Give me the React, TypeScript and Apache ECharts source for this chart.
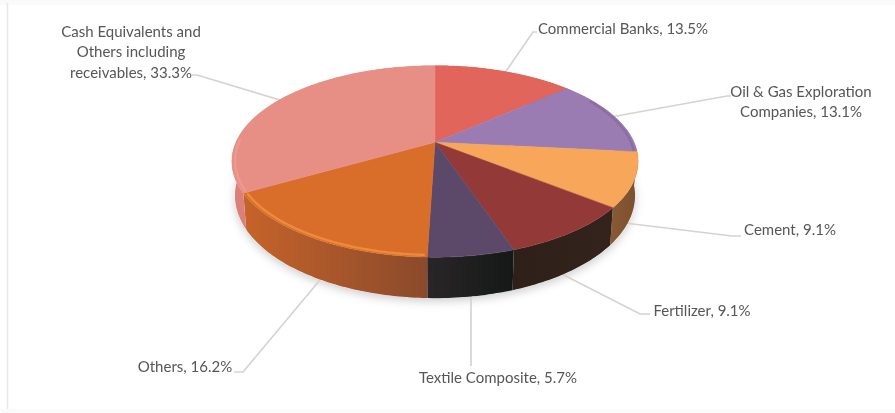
import React, { useEffect, useRef } from "react";
import * as echarts from "echarts";

const categories = [
  "Commercial Banks",
  "Oil & Gas Exploration\nCompanies",
  "Cement",
  "Fertilizer",
  "Textile Composite",
  "Others",
  "Cash Equivalents and\nOthers including\nreceivables",
];
const shares = [13.5, 13.1, 9.1, 9.1, 5.7, 16.2, 33.3];

const topColors = ["#E2655B", "#9A7CB2", "#F7A65A", "#933A38", "#5C4868", "#D96E2A", "#E88F85"];
const rimColors = ["#E2655B", "#8A6EA6", "#F7A65A", "#933A38", "#5C4868", "#EE8A3A", "#EC9A90"];
const wallLeft = ["#A84B44", "#6E5788", "#8A5A35", "#2E2019", "#2A2628", "#C6632A", "#DB8078"];
const wallRight = ["#A84B44", "#6E5788", "#7A4E2E", "#33231C", "#141817", "#8A4A2B", "#DB8078"];

// Label layout: text centre and leader polyline, in page pixels.
const labelCentres = [
  [623, 28], [801, 101], [790, 229], [702, 310], [498, 377], [185, 366], [131, 51],
];
const leaderPaths = [
  [[500, 80], [533, 32], [537, 32]],
  [[600, 119], [727, 96], [731, 96]],
  [[600, 220], [732, 236], [741, 236]],
  [[550, 268], [640, 314], [650, 314]],
  [[471, 290], [471, 366]],
  [[330, 268], [243, 372], [234, 372]],
  [[290, 103], [197, 75], [192, 75]],
];

// Projection of the pie's disc
const CX = 435, CY = 142.3, A = 199, B = 91.9, K = 0.2, DEPTH = 32.8, PULL = 0.985;
// The bevel highlight only shows on the near part of the rim.
const RIM_FROM = 60, RIM_TO = 272;

function project(angleDeg: number, radius = 1, drop = false): number[] {
  const t = (angleDeg * Math.PI) / 180;
  const w = 1 + K * radius * Math.cos(t);
  const sx = (A * radius * Math.sin(t)) / w;
  const sy = (B * radius * Math.cos(t)) / w;
  return drop
    ? [CX + sx * PULL, CY - sy + DEPTH / w]
    : [CX + sx, CY - sy];
}

function sliceAngles(i: number): [number, number] {
  const total = shares.reduce((a, b) => a + b, 0);
  const before = shares.slice(0, i).reduce((a, b) => a + b, 0);
  return [(before / total) * 360, ((before + shares[i]) / total) * 360];
}

function arc(a0: number, a1: number, radius = 1, drop = false): number[][] {
  const n = Math.max(2, Math.ceil(a1 - a0));
  const pts: number[][] = [];
  for (let k = 0; k <= n; k++) pts.push(project(a0 + ((a1 - a0) * k) / n, radius, drop));
  return pts;
}

const seriesData = categories.map((name, i) => ({ name, value: shares[i] }));

export default function App() {
  const ref = useRef<HTMLDivElement>(null);
  useEffect(() => {
    document.body.style.margin = "0";
    document.body.style.background = "#ffffff";
    const chart = echarts.init(ref.current!, undefined, { renderer: "svg" });
    chart.setOption({
      animation: false,
      backgroundColor: "#ffffff",
      graphic: [
        { type: "rect", shape: { x: 0, y: 0, width: 895, height: 5 }, style: { fill: "#FAFAFA" }, silent: true, z: 0 },
        { type: "rect", shape: { x: 0, y: 409, width: 895, height: 4 }, style: { fill: "#FAFAFA" }, silent: true, z: 0 },
        { type: "line", shape: { x1: 7.5, y1: 3, x2: 7.5, y2: 409 }, style: { stroke: "#E8E8E8", lineWidth: 1.5 }, silent: true, z: 0 },
      ],
      series: [
        {
          type: "custom",
          coordinateSystem: "none",
          silent: true,
          z: 1,
          data: seriesData,
          renderItem: (p: any) => {
            const i = p.dataIndex;
            const shadow = i === 0
              ? [{
                  type: "polygon",
                  shape: { points: arc(0, 360, 1, true) },
                  style: { fill: "#ffffff", shadowBlur: 10, shadowColor: "rgba(0,0,0,0.2)", shadowOffsetY: 3 },
                }]
              : [];
            return {
              type: "group",
              children: [
                ...shadow,
                {
                  type: "polyline",
                  shape: { points: leaderPaths[i] },
                  style: { stroke: "#D6D3CF", lineWidth: 1.7, fill: "none" },
                },
                {
                  type: "text",
                  x: labelCentres[i][0],
                  y: labelCentres[i][1],
                  style: {
                    text: `${categories[i]}, ${shares[i]}%`,
                    fill: "#565656",
                    font: "15px Lato",
                    lineHeight: 20.5,
                    align: "center",
                    verticalAlign: "middle",
                  },
                },
              ],
            };
          },
        },
        {
          type: "custom",
          coordinateSystem: "none",
          silent: true,
          z: 2,
          data: seriesData,
          renderItem: (p: any) => {
            const i = p.dataIndex;
            const [a0, a1] = sliceAngles(i);
            const pts = [...arc(a0, a1), ...arc(a0, a1, 1, true).reverse()];
            return {
              type: "polygon",
              shape: { points: pts },
              style: {
                fill: new echarts.graphic.LinearGradient(0, 0, 1, 0, [
                  { offset: 0, color: wallLeft[i] },
                  { offset: 1, color: wallRight[i] },
                ]),
              },
            };
          },
        },
        {
          type: "custom",
          coordinateSystem: "none",
          silent: true,
          z: 3,
          data: seriesData,
          renderItem: (p: any) => {
            const i = p.dataIndex;
            const [a0, a1] = sliceAngles(i);
            const r0 = Math.max(a0 + 0.6, RIM_FROM);
            const r1 = Math.min(a1 - 0.6, RIM_TO);
            const rim = r1 > r0
              ? [{
                  type: "polyline",
                  shape: { points: arc(r0, r1, 0.985) },
                  style: { stroke: rimColors[i], lineWidth: 2.4, fill: "none" },
                }]
              : [];
            return {
              type: "group",
              children: [
                {
                  type: "polygon",
                  shape: { points: [[CX, CY], ...arc(a0, a1)] },
                  style: { fill: topColors[i], stroke: topColors[i], lineWidth: 0.5 },
                },
                ...rim,
              ],
            };
          },
        },
      ],
    });
    return () => chart.dispose();
  }, []);
  return <div ref={ref} style={{ width: 895, height: 413, filter: "blur(0.5px)" }} />;
}
